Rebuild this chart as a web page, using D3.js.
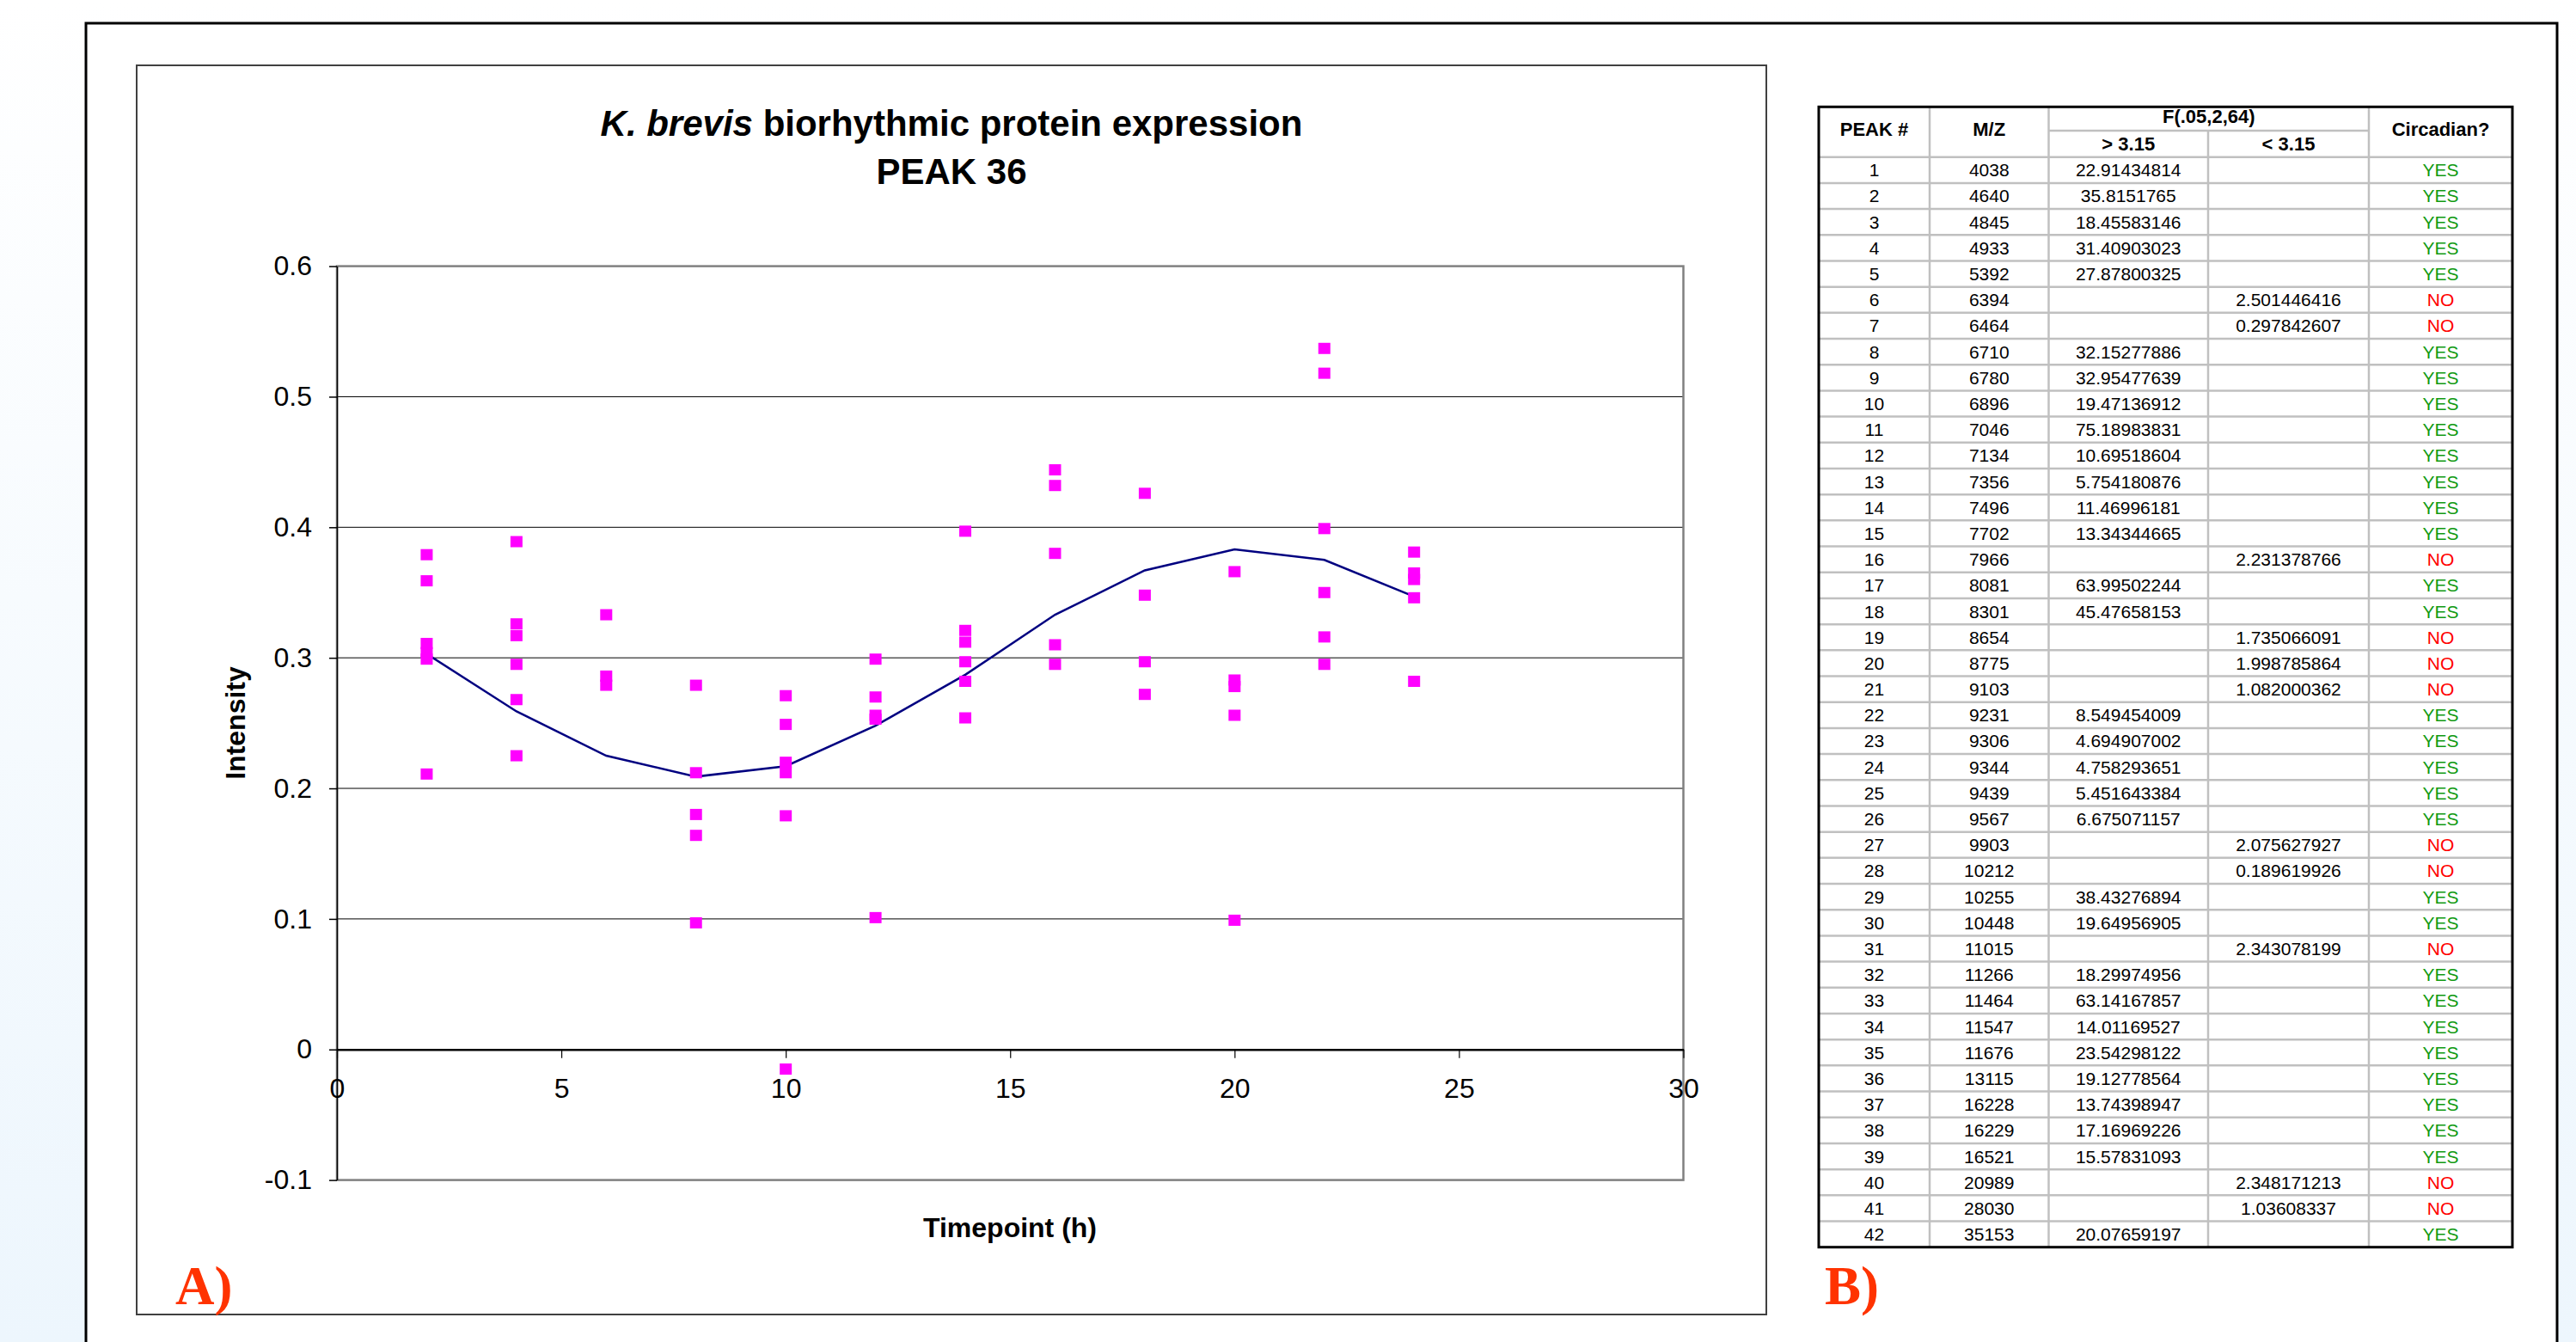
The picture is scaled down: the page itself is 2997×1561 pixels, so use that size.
<!DOCTYPE html>
<html>
<head>
<meta charset="utf-8">
<title>K. brevis PEAK 36</title>
<script src="https://d3js.org/d3.v7.min.js"></script>
<style>
  body { margin: 0; padding: 0; overflow: hidden; }
  text { font-family: "Liberation Sans", Arial, sans-serif; }
</style>
</head>
<body>
<div id="home"></div>
<script>
// ---- chart data ----
const timepoints = [2, 4, 6, 8, 10, 12, 14, 16, 18, 20, 22, 24];
const replicates = [
  [0.379, 0.359, 0.311, 0.304, 0.299, 0.211],
  [0.389, 0.326, 0.317, 0.295, 0.268, 0.225],
  [0.333, 0.286, 0.279],
  [0.279, 0.212, 0.180, 0.164, 0.097],
  [0.271, 0.249, 0.220, 0.212, 0.179, -0.015],
  [0.299, 0.270, 0.256, 0.253, 0.101],
  [0.397, 0.321, 0.312, 0.297, 0.282, 0.254],
  [0.444, 0.432, 0.380, 0.310, 0.295],
  [0.426, 0.348, 0.297, 0.272],
  [0.366, 0.283, 0.278, 0.256, 0.099],
  [0.537, 0.518, 0.399, 0.350, 0.316, 0.295],
  [0.381, 0.365, 0.360, 0.346, 0.282]
];
const trend = [0.303, 0.259, 0.225, 0.209, 0.217, 0.248, 0.287, 0.333, 0.367, 0.383, 0.375, 0.347];
const xTicks = [0, 5, 10, 15, 20, 25, 30];
const yTicks = [-0.1, 0, 0.1, 0.2, 0.3, 0.4, 0.5, 0.6];

// ---- table data ----
const peakNo = d3.range(1, 43);
const mz = [4038, 4640, 4845, 4933, 5392, 6394, 6464, 6710, 6780, 6896, 7046, 7134, 7356, 7496,
  7702, 7966, 8081, 8301, 8654, 8775, 9103, 9231, 9306, 9344, 9439, 9567, 9903, 10212, 10255,
  10448, 11015, 11266, 11464, 11547, 11676, 13115, 16228, 16229, 16521, 20989, 28030, 35153];
const fStat = ["22.91434814", "35.8151765", "18.45583146", "31.40903023", "27.87800325",
  "2.501446416", "0.297842607", "32.15277886", "32.95477639", "19.47136912", "75.18983831",
  "10.69518604", "5.754180876", "11.46996181", "13.34344665", "2.231378766", "63.99502244",
  "45.47658153", "1.735066091", "1.998785864", "1.082000362", "8.549454009", "4.694907002",
  "4.758293651", "5.451643384", "6.675071157", "2.075627927", "0.189619926", "38.43276894",
  "19.64956905", "2.343078199", "18.29974956", "63.14167857", "14.01169527", "23.54298122",
  "19.12778564", "13.74398947", "17.16969226", "15.57831093", "2.348171213", "1.03608337",
  "20.07659197"];
const fCritical = 3.15;

const W = 2997, H = 1561;
const svg = d3.select("#home").append("svg")
  .attr("width", W).attr("height", H);

// page background
const grad = svg.append("defs").append("linearGradient")
  .attr("id", "bg").attr("x1", 0).attr("y1", 0).attr("x2", 0).attr("y2", 1);
grad.append("stop").attr("offset", "0%").attr("stop-color", "#ffffff");
grad.append("stop").attr("offset", "100%").attr("stop-color", "#edf6fd");
svg.append("rect").attr("width", W).attr("height", H).attr("fill", "url(#bg)");

// outer panel
svg.append("rect")
  .attr("x", 100).attr("y", 27).attr("width", 2875).attr("height", 1600)
  .attr("fill", "#fff").attr("stroke", "#000").attr("stroke-width", 3);

// chart frame
svg.append("rect")
  .attr("x", 159).attr("y", 76).attr("width", 1896).attr("height", 1453)
  .attr("fill", "#fff").attr("stroke", "#404040").attr("stroke-width", 2);

const x = d3.scaleLinear().domain([0, 30]).range([392, 1958.5]);
const y = d3.scaleLinear().domain([-0.1, 0.6]).range([1372.6, 309.6]);

// gridlines
svg.append("g").selectAll("line")
  .data(yTicks.filter(d => d > 0 && d < 0.6))
  .enter().append("line")
  .attr("x1", x(0)).attr("x2", x(30))
  .attr("y1", d => y(d)).attr("y2", d => y(d))
  .attr("stroke", "#000").attr("stroke-width", 1);

// plot border
svg.append("rect")
  .attr("x", x(0)).attr("y", y(0.6))
  .attr("width", x(30) - x(0)).attr("height", y(-0.1) - y(0.6))
  .attr("fill", "none").attr("stroke", "#808080").attr("stroke-width", 2.5);

// y axis
const yAxis = svg.append("g")
  .attr("transform", `translate(${x(0)},0)`)
  .call(d3.axisLeft(y).tickValues(yTicks).tickSize(9).tickSizeOuter(0).tickPadding(20)
    .tickFormat(d => Math.abs(d) < 1e-9 ? "0" : d.toFixed(1)));
yAxis.selectAll("text").attr("font-size", 32).attr("fill", "#000")
  .style("font-family", "'Liberation Sans', Arial, sans-serif");
yAxis.selectAll("line, path").attr("stroke", "#000").attr("stroke-width", 1.5);

// x axis on the zero line
const xAxis = svg.append("g")
  .attr("transform", `translate(0,${y(0)})`)
  .call(d3.axisBottom(x).tickValues(xTicks).tickSize(10).tickSizeOuter(0).tickPadding(24));
xAxis.selectAll("text").attr("font-size", 32).attr("fill", "#000")
  .style("font-family", "'Liberation Sans', Arial, sans-serif");
xAxis.selectAll("line").attr("stroke", "#000").attr("stroke-width", 1.2);
xAxis.select("path").attr("stroke", "#000").attr("stroke-width", 2.5);

// trend line
const line = d3.line().x((d, i) => x(timepoints[i])).y(d => y(d));
svg.append("path").datum(trend)
  .attr("d", line).attr("fill", "none")
  .attr("stroke", "#000080").attr("stroke-width", 2.5);

// replicate markers
const pts = [];
replicates.forEach((vals, i) => vals.forEach(v => pts.push([timepoints[i], v])));
svg.append("g").selectAll("rect").data(pts).enter().append("rect")
  .attr("x", d => x(d[0]) - 7).attr("y", d => y(d[1]) - 6.5)
  .attr("width", 14).attr("height", 13)
  .attr("fill", "#ff00ff");

// titles
const title = svg.append("text")
  .attr("x", 1107).attr("y", 158).attr("text-anchor", "middle")
  .attr("font-size", 42).attr("font-weight", "bold");
title.append("tspan").attr("font-style", "italic").text("K. brevis");
title.append("tspan").text(" biorhythmic protein expression");
svg.append("text")
  .attr("x", 1107).attr("y", 214).attr("text-anchor", "middle")
  .attr("font-size", 42).attr("font-weight", "bold").text("PEAK 36");

svg.append("text")
  .attr("transform", "translate(285,841) rotate(-90)")
  .attr("text-anchor", "middle").attr("font-size", 32).attr("font-weight", "bold")
  .text("Intensity");
svg.append("text")
  .attr("x", 1175).attr("y", 1439).attr("text-anchor", "middle")
  .attr("font-size", 32).attr("font-weight", "bold")
  .text("Timepoint (h)");

// panel letters
[["A)", 204], ["B)", 2123]].forEach(([t, px]) => {
  svg.append("text").attr("x", px).attr("y", 1517)
    .attr("font-size", 63).attr("font-weight", "bold")
    .style("font-family", "'Liberation Serif', 'Times New Roman', serif")
    .attr("fill", "#ff3300").text(t);
});

// ---- table ----
const colEdges = [2116, 2245, 2383.5, 2569, 2756, 2923];
const colMid = d3.range(5).map(i => (colEdges[i] + colEdges[i + 1]) / 2);
const tTop = 124.3, tSplit = 152, tHead = 182.7, tBottom = 1450.7;
const row = d3.scaleLinear().domain([0, 42]).range([tHead, tBottom]);
const tbl = svg.append("g");
const grid = "#c0c0c0";

tbl.append("rect").attr("x", colEdges[0]).attr("y", tTop)
  .attr("width", colEdges[5] - colEdges[0]).attr("height", tBottom - tTop)
  .attr("fill", "#fff");

// horizontal row lines
tbl.selectAll(".hr").data(d3.range(0, 42)).enter().append("line")
  .attr("x1", colEdges[0]).attr("x2", colEdges[5])
  .attr("y1", d => row(d)).attr("y2", d => row(d))
  .attr("stroke", grid).attr("stroke-width", 2.5);
tbl.append("line").attr("x1", colEdges[2]).attr("x2", colEdges[4])
  .attr("y1", tSplit).attr("y2", tSplit).attr("stroke", grid).attr("stroke-width", 2.5);
// vertical lines
[1, 2, 4].forEach(i => tbl.append("line")
  .attr("x1", colEdges[i]).attr("x2", colEdges[i]).attr("y1", tTop).attr("y2", tBottom)
  .attr("stroke", grid).attr("stroke-width", 2.5));
tbl.append("line").attr("x1", colEdges[3]).attr("x2", colEdges[3])
  .attr("y1", tSplit).attr("y2", tBottom).attr("stroke", grid).attr("stroke-width", 2.5);

// header text
const head = [
  ["PEAK #", colMid[0], 158], ["M/Z", colMid[1], 158],
  ["F(.05,2,64)", (colEdges[2] + colEdges[4]) / 2, 143],
  ["> 3.15", colMid[2], 175], ["< 3.15", colMid[3], 175],
  ["Circadian?", colMid[4], 158]
];
tbl.selectAll(".hd").data(head).enter().append("text")
  .attr("x", d => d[1]).attr("y", d => d[2]).attr("text-anchor", "middle")
  .attr("font-size", 22).attr("font-weight", "bold").text(d => d[0]);

// body rows
const rowsData = peakNo.map((p, i) => ({
  p, mz: mz[i], f: fStat[i], yes: +fStat[i] > fCritical
}));
const rg = tbl.selectAll(".row").data(rowsData).enter().append("g")
  .attr("transform", (d, i) => `translate(0,${(row(i) + row(i + 1)) / 2 + 7.5})`)
  .attr("font-size", 21).attr("text-anchor", "middle");
rg.append("text").attr("x", colMid[0]).text(d => d.p);
rg.append("text").attr("x", colMid[1]).text(d => d.mz);
rg.append("text").attr("x", d => d.yes ? colMid[2] : colMid[3]).text(d => d.f);
rg.append("text").attr("x", colMid[4])
  .attr("fill", d => d.yes ? "#129a12" : "#ff0000")
  .text(d => d.yes ? "YES" : "NO");

tbl.append("rect").attr("x", colEdges[0]).attr("y", tTop)
  .attr("width", colEdges[5] - colEdges[0]).attr("height", tBottom - tTop)
  .attr("fill", "none").attr("stroke", "#000").attr("stroke-width", 3);
</script>
</body>
</html>
